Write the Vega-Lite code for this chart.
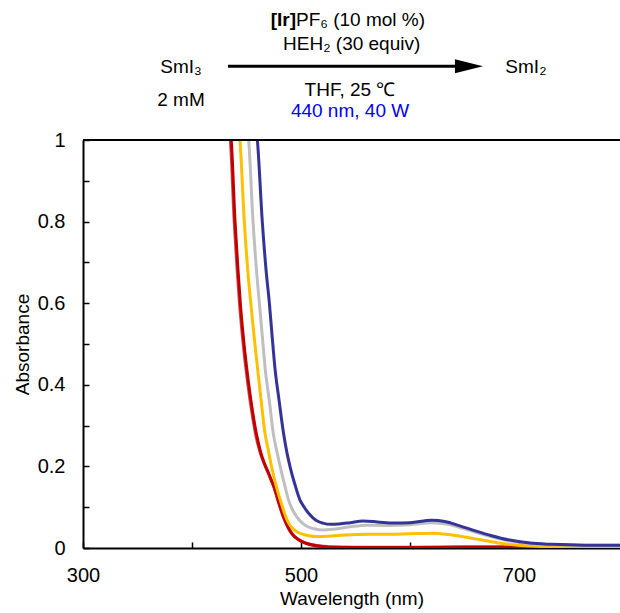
{
  "$schema": "https://vega.github.io/schema/vega-lite/v6.json",
  "autosize": {"type": "none"},
  "padding": {"left": 83, "top": 140, "right": 0, "bottom": 65},
  "width": 537,
  "height": 408,
  "background": "white",
  "config": {
    "font": "Liberation Sans",
    "view": {"stroke": null},
    "axis": {
      "domainColor": "black",
      "domainWidth": 2,
      "tickColor": "black",
      "tickWidth": 1.5,
      "grid": false,
      "labelColor": "black",
      "titleColor": "black",
      "labelFont": "Liberation Sans",
      "titleFont": "Liberation Sans",
      "labelFontSize": 20,
      "titleFontSize": 19,
      "titleFontWeight": "normal"
    }
  },
  "datasets": {
    "spectra": [
      {"series": "Spectrum 1b", "lambda": 433.2, "A": 1.05},
      {"series": "Spectrum 1b", "lambda": 435.2, "A": 1.0},
      {"series": "Spectrum 1b", "lambda": 438.7, "A": 0.8},
      {"series": "Spectrum 1b", "lambda": 441.2, "A": 0.69},
      {"series": "Spectrum 1b", "lambda": 443.7, "A": 0.595},
      {"series": "Spectrum 1b", "lambda": 446.2, "A": 0.52},
      {"series": "Spectrum 1b", "lambda": 449.2, "A": 0.445},
      {"series": "Spectrum 1b", "lambda": 453.2, "A": 0.363},
      {"series": "Spectrum 1b", "lambda": 458.2, "A": 0.281},
      {"series": "Spectrum 1b", "lambda": 462.2, "A": 0.237},
      {"series": "Spectrum 1b", "lambda": 465.5, "A": 0.212},
      {"series": "Spectrum 1b", "lambda": 469.5, "A": 0.187},
      {"series": "Spectrum 1b", "lambda": 472.5, "A": 0.167},
      {"series": "Spectrum 1b", "lambda": 475.5, "A": 0.146},
      {"series": "Spectrum 1b", "lambda": 478.5, "A": 0.119},
      {"series": "Spectrum 1b", "lambda": 483.5, "A": 0.078},
      {"series": "Spectrum 1b", "lambda": 487.5, "A": 0.053},
      {"series": "Spectrum 1b", "lambda": 491.5, "A": 0.035},
      {"series": "Spectrum 1b", "lambda": 497.5, "A": 0.021},
      {"series": "Spectrum 1b", "lambda": 504.5, "A": 0.012},
      {"series": "Spectrum 1b", "lambda": 515, "A": 0.006},
      {"series": "Spectrum 1b", "lambda": 526, "A": 0.003},
      {"series": "Spectrum 1b", "lambda": 550, "A": 0.002},
      {"series": "Spectrum 1b", "lambda": 600, "A": 0.002},
      {"series": "Spectrum 1b", "lambda": 650, "A": 0.003},
      {"series": "Spectrum 1b", "lambda": 700, "A": 0.003},
      {"series": "Spectrum 1b", "lambda": 750, "A": 0.003},
      {"series": "Spectrum 1b", "lambda": 800, "A": 0.003},
      {"series": "Spectrum 1", "lambda": 434, "A": 1.05},
      {"series": "Spectrum 1", "lambda": 436, "A": 1.0},
      {"series": "Spectrum 1", "lambda": 439.5, "A": 0.8},
      {"series": "Spectrum 1", "lambda": 442, "A": 0.69},
      {"series": "Spectrum 1", "lambda": 444.5, "A": 0.595},
      {"series": "Spectrum 1", "lambda": 447, "A": 0.52},
      {"series": "Spectrum 1", "lambda": 450, "A": 0.445},
      {"series": "Spectrum 1", "lambda": 454, "A": 0.363},
      {"series": "Spectrum 1", "lambda": 459, "A": 0.281},
      {"series": "Spectrum 1", "lambda": 463, "A": 0.235},
      {"series": "Spectrum 1", "lambda": 466, "A": 0.21},
      {"series": "Spectrum 1", "lambda": 470, "A": 0.185},
      {"series": "Spectrum 1", "lambda": 473, "A": 0.165},
      {"series": "Spectrum 1", "lambda": 476, "A": 0.145},
      {"series": "Spectrum 1", "lambda": 479, "A": 0.118},
      {"series": "Spectrum 1", "lambda": 484, "A": 0.077},
      {"series": "Spectrum 1", "lambda": 488, "A": 0.052},
      {"series": "Spectrum 1", "lambda": 492, "A": 0.034},
      {"series": "Spectrum 1", "lambda": 498, "A": 0.02},
      {"series": "Spectrum 1", "lambda": 505, "A": 0.011},
      {"series": "Spectrum 1", "lambda": 515, "A": 0.005},
      {"series": "Spectrum 1", "lambda": 526, "A": 0.002},
      {"series": "Spectrum 1", "lambda": 550, "A": 0.001},
      {"series": "Spectrum 1", "lambda": 600, "A": 0.001},
      {"series": "Spectrum 1", "lambda": 650, "A": 0.002},
      {"series": "Spectrum 1", "lambda": 700, "A": 0.002},
      {"series": "Spectrum 1", "lambda": 750, "A": 0.002},
      {"series": "Spectrum 1", "lambda": 800, "A": 0.002},
      {"series": "Spectrum 2", "lambda": 442, "A": 1.05},
      {"series": "Spectrum 2", "lambda": 444, "A": 1.0},
      {"series": "Spectrum 2", "lambda": 448, "A": 0.8},
      {"series": "Spectrum 2", "lambda": 451.5, "A": 0.67},
      {"series": "Spectrum 2", "lambda": 454.7, "A": 0.58},
      {"series": "Spectrum 2", "lambda": 457.5, "A": 0.505},
      {"series": "Spectrum 2", "lambda": 460, "A": 0.444},
      {"series": "Spectrum 2", "lambda": 463.5, "A": 0.36},
      {"series": "Spectrum 2", "lambda": 467, "A": 0.281},
      {"series": "Spectrum 2", "lambda": 470, "A": 0.24},
      {"series": "Spectrum 2", "lambda": 473, "A": 0.199},
      {"series": "Spectrum 2", "lambda": 477, "A": 0.155},
      {"series": "Spectrum 2", "lambda": 481, "A": 0.118},
      {"series": "Spectrum 2", "lambda": 486, "A": 0.077},
      {"series": "Spectrum 2", "lambda": 490, "A": 0.055},
      {"series": "Spectrum 2", "lambda": 495, "A": 0.042},
      {"series": "Spectrum 2", "lambda": 500, "A": 0.035},
      {"series": "Spectrum 2", "lambda": 507, "A": 0.03},
      {"series": "Spectrum 2", "lambda": 515, "A": 0.028},
      {"series": "Spectrum 2", "lambda": 525, "A": 0.029},
      {"series": "Spectrum 2", "lambda": 540, "A": 0.032},
      {"series": "Spectrum 2", "lambda": 560, "A": 0.034},
      {"series": "Spectrum 2", "lambda": 580, "A": 0.034},
      {"series": "Spectrum 2", "lambda": 600, "A": 0.035},
      {"series": "Spectrum 2", "lambda": 620, "A": 0.036},
      {"series": "Spectrum 2", "lambda": 635, "A": 0.033},
      {"series": "Spectrum 2", "lambda": 650, "A": 0.027},
      {"series": "Spectrum 2", "lambda": 665, "A": 0.02},
      {"series": "Spectrum 2", "lambda": 680, "A": 0.013},
      {"series": "Spectrum 2", "lambda": 695, "A": 0.008},
      {"series": "Spectrum 2", "lambda": 710, "A": 0.005},
      {"series": "Spectrum 2", "lambda": 730, "A": 0.003},
      {"series": "Spectrum 2", "lambda": 760, "A": 0.003},
      {"series": "Spectrum 2", "lambda": 800, "A": 0.003},
      {"series": "Spectrum 3", "lambda": 450, "A": 1.05},
      {"series": "Spectrum 3", "lambda": 452, "A": 1.0},
      {"series": "Spectrum 3", "lambda": 456, "A": 0.8},
      {"series": "Spectrum 3", "lambda": 459.5, "A": 0.67},
      {"series": "Spectrum 3", "lambda": 462, "A": 0.595},
      {"series": "Spectrum 3", "lambda": 464.5, "A": 0.52},
      {"series": "Spectrum 3", "lambda": 467, "A": 0.444},
      {"series": "Spectrum 3", "lambda": 471, "A": 0.36},
      {"series": "Spectrum 3", "lambda": 474.6, "A": 0.281},
      {"series": "Spectrum 3", "lambda": 478, "A": 0.235},
      {"series": "Spectrum 3", "lambda": 481, "A": 0.199},
      {"series": "Spectrum 3", "lambda": 485, "A": 0.155},
      {"series": "Spectrum 3", "lambda": 488.5, "A": 0.118},
      {"series": "Spectrum 3", "lambda": 492, "A": 0.095},
      {"series": "Spectrum 3", "lambda": 496, "A": 0.077},
      {"series": "Spectrum 3", "lambda": 500, "A": 0.064},
      {"series": "Spectrum 3", "lambda": 505, "A": 0.054},
      {"series": "Spectrum 3", "lambda": 512, "A": 0.047},
      {"series": "Spectrum 3", "lambda": 520, "A": 0.044},
      {"series": "Spectrum 3", "lambda": 530, "A": 0.046},
      {"series": "Spectrum 3", "lambda": 545, "A": 0.052},
      {"series": "Spectrum 3", "lambda": 560, "A": 0.056},
      {"series": "Spectrum 3", "lambda": 580, "A": 0.055},
      {"series": "Spectrum 3", "lambda": 600, "A": 0.057},
      {"series": "Spectrum 3", "lambda": 620, "A": 0.062},
      {"series": "Spectrum 3", "lambda": 635, "A": 0.058},
      {"series": "Spectrum 3", "lambda": 650, "A": 0.047},
      {"series": "Spectrum 3", "lambda": 665, "A": 0.035},
      {"series": "Spectrum 3", "lambda": 680, "A": 0.024},
      {"series": "Spectrum 3", "lambda": 695, "A": 0.016},
      {"series": "Spectrum 3", "lambda": 710, "A": 0.011},
      {"series": "Spectrum 3", "lambda": 730, "A": 0.008},
      {"series": "Spectrum 3", "lambda": 760, "A": 0.007},
      {"series": "Spectrum 3", "lambda": 800, "A": 0.007},
      {"series": "Spectrum 4", "lambda": 458, "A": 1.05},
      {"series": "Spectrum 4", "lambda": 460, "A": 1.0},
      {"series": "Spectrum 4", "lambda": 464.5, "A": 0.8},
      {"series": "Spectrum 4", "lambda": 468, "A": 0.68},
      {"series": "Spectrum 4", "lambda": 471, "A": 0.6},
      {"series": "Spectrum 4", "lambda": 473.5, "A": 0.52},
      {"series": "Spectrum 4", "lambda": 476, "A": 0.444},
      {"series": "Spectrum 4", "lambda": 480, "A": 0.36},
      {"series": "Spectrum 4", "lambda": 484, "A": 0.281},
      {"series": "Spectrum 4", "lambda": 487, "A": 0.235},
      {"series": "Spectrum 4", "lambda": 490, "A": 0.199},
      {"series": "Spectrum 4", "lambda": 494.5, "A": 0.155},
      {"series": "Spectrum 4", "lambda": 499, "A": 0.118},
      {"series": "Spectrum 4", "lambda": 503, "A": 0.1},
      {"series": "Spectrum 4", "lambda": 507, "A": 0.085},
      {"series": "Spectrum 4", "lambda": 511, "A": 0.074},
      {"series": "Spectrum 4", "lambda": 515, "A": 0.066},
      {"series": "Spectrum 4", "lambda": 520, "A": 0.061},
      {"series": "Spectrum 4", "lambda": 527, "A": 0.058},
      {"series": "Spectrum 4", "lambda": 535, "A": 0.059},
      {"series": "Spectrum 4", "lambda": 545, "A": 0.062},
      {"series": "Spectrum 4", "lambda": 557, "A": 0.066},
      {"series": "Spectrum 4", "lambda": 570, "A": 0.064},
      {"series": "Spectrum 4", "lambda": 585, "A": 0.061},
      {"series": "Spectrum 4", "lambda": 600, "A": 0.062},
      {"series": "Spectrum 4", "lambda": 620, "A": 0.068},
      {"series": "Spectrum 4", "lambda": 632, "A": 0.065},
      {"series": "Spectrum 4", "lambda": 645, "A": 0.055},
      {"series": "Spectrum 4", "lambda": 660, "A": 0.042},
      {"series": "Spectrum 4", "lambda": 675, "A": 0.03},
      {"series": "Spectrum 4", "lambda": 690, "A": 0.02},
      {"series": "Spectrum 4", "lambda": 710, "A": 0.012},
      {"series": "Spectrum 4", "lambda": 730, "A": 0.009},
      {"series": "Spectrum 4", "lambda": 760, "A": 0.007},
      {"series": "Spectrum 4", "lambda": 800, "A": 0.007}
    ],
    "labels": [
      {"lambda": 546.5, "A": 1.235, "text": "HEH₂ (30 equiv)"},
      {"lambda": 389.9, "A": 1.179, "text": "SmI₃"},
      {"lambda": 389.9, "A": 1.098, "text": "2 mM"},
      {"lambda": 545, "A": 1.123, "text": "THF, 25 ℃"},
      {"lambda": 706.4, "A": 1.179, "text": "SmI₂"}
    ],
    "bold": [{"lambda": 495.4, "A": 1.294, "text": "[Ir]"}],
    "after": [{"lambda": 495.4, "A": 1.294, "text": "PF₆ (10 mol %)"}],
    "light": [{"lambda": 545, "A": 1.071, "text": "440 nm, 40 W"}],
    "arrow": [{"lambda": 433, "lambda2": 648, "A": 1.181}],
    "head": [{"lambda": 654.1, "A": 1.181}],
    "frame": [{"A": 1}]
  },
  "layer": [
    {
      "data": {"name": "spectra"},
      "mark": {"type": "line", "clip": true, "strokeWidth": 3, "interpolate": "monotone"},
      "encoding": {
        "x": {
          "field": "lambda", "type": "quantitative", "title": "Wavelength (nm)",
          "scale": {"domain": [300, 792.7], "nice": false, "zero": false},
          "axis": {
            "values": [300, 400, 500, 600, 700],
            "labelExpr": "(datum.value == 300 || datum.value == 500 || datum.value == 700) ? datum.label : ''",
            "tickSize": -6, "labelPadding": 23, "titlePadding": 4, "labelFlush": false
          }
        },
        "y": {
          "field": "A", "type": "quantitative", "title": "Absorbance",
          "scale": {"domain": [0, 1], "nice": false},
          "axis": {
            "values": [0, 0.1, 0.2, 0.3, 0.4, 0.5, 0.6, 0.7, 0.8, 0.9, 1],
            "labelExpr": "(round(datum.value * 10) % 2 == 0) ? format(datum.value, '.1~f') : ''",
            "tickSize": -6, "labelPadding": 24, "titlePadding": 5, "labelFlush": false
          }
        },
        "color": {
          "field": "series", "type": "nominal", "legend": null,
          "scale": {
            "domain": ["Spectrum 3", "Spectrum 4", "Spectrum 2", "Spectrum 1b", "Spectrum 1"],
            "range": ["#bfbfbf", "#333399", "#ffc000", "#d44a4a", "#c00000"]
          }
        }
      }
    },
    {
      "data": {"name": "frame"},
      "mark": {"type": "rule", "color": "black", "strokeWidth": 2},
      "encoding": {"y": {"field": "A", "type": "quantitative", "title": "Absorbance"}}
    },
    {
      "data": {"name": "labels"},
      "mark": {"type": "text", "fontSize": 19, "baseline": "middle", "align": "center", "color": "black"},
      "encoding": {
        "x": {"field": "lambda", "type": "quantitative", "title": "Wavelength (nm)"},
        "y": {"field": "A", "type": "quantitative", "title": "Absorbance"},
        "text": {"field": "text"}
      }
    },
    {
      "data": {"name": "bold"},
      "mark": {"type": "text", "fontSize": 19, "fontWeight": "bold", "baseline": "middle", "align": "right", "color": "black"},
      "encoding": {
        "x": {"field": "lambda", "type": "quantitative", "title": "Wavelength (nm)"},
        "y": {"field": "A", "type": "quantitative", "title": "Absorbance"},
        "text": {"field": "text"}
      }
    },
    {
      "data": {"name": "after"},
      "mark": {"type": "text", "fontSize": 19, "baseline": "middle", "align": "left", "color": "black"},
      "encoding": {
        "x": {"field": "lambda", "type": "quantitative", "title": "Wavelength (nm)"},
        "y": {"field": "A", "type": "quantitative", "title": "Absorbance"},
        "text": {"field": "text"}
      }
    },
    {
      "data": {"name": "light"},
      "mark": {"type": "text", "fontSize": 19, "baseline": "middle", "align": "center", "color": "#0000ff"},
      "encoding": {
        "x": {"field": "lambda", "type": "quantitative", "title": "Wavelength (nm)"},
        "y": {"field": "A", "type": "quantitative", "title": "Absorbance"},
        "text": {"field": "text"}
      }
    },
    {
      "data": {"name": "arrow"},
      "mark": {"type": "rule", "color": "black", "strokeWidth": 3},
      "encoding": {
        "x": {"field": "lambda", "type": "quantitative", "title": "Wavelength (nm)"},
        "x2": {"field": "lambda2"},
        "y": {"field": "A", "type": "quantitative", "title": "Absorbance"}
      }
    },
    {
      "data": {"name": "head"},
      "mark": {"type": "point", "shape": "M -1 -0.5 L 1 0 L -1 0.5 Z", "size": 784, "filled": true, "color": "black", "opacity": 1, "strokeWidth": 0},
      "encoding": {
        "x": {"field": "lambda", "type": "quantitative", "title": "Wavelength (nm)"},
        "y": {"field": "A", "type": "quantitative", "title": "Absorbance"}
      }
    }
  ]
}
